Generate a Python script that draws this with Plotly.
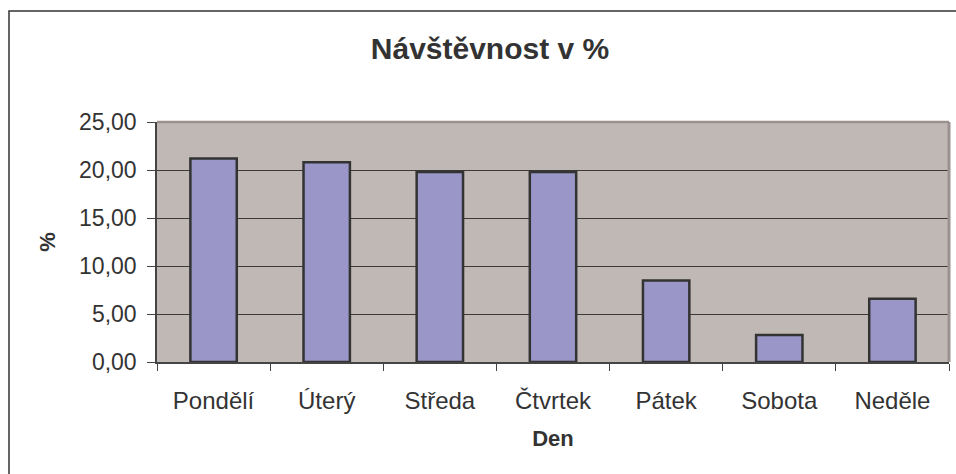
import plotly.graph_objects as go

days = ["Pondělí", "Úterý", "Středa", "Čtvrtek", "Pátek", "Sobota", "Neděle"]
visits_pct = [21.2, 20.8, 19.8, 19.8, 8.5, 2.8, 6.6]
y_ticks = [0, 5, 10, 15, 20, 25]

W, H = 956, 474
L, R, T, B = 157, 7, 122, 112
pw, ph = W - L - R, H - T - B

def px_x(p):
    return (p - L) / pw

def px_y(p):
    return (H - B - p) / ph

font_family = "Liberation Sans, Arial, sans-serif"
txt = "#333333"

fig = go.Figure(
    go.Bar(
        x=days,
        y=visits_pct,
        marker=dict(color="#9a96c8", line=dict(color="#333333", width=2.5)),
        hoverinfo="x+y",
    )
)

fig.update_layout(
    width=W,
    height=H,
    margin=dict(l=L, r=R, t=T, b=B, autoexpand=False),
    paper_bgcolor="white",
    plot_bgcolor="#c0b8b5",
    separators=", ",
    bargap=0.59,
    showlegend=False,
    font=dict(family=font_family, color=txt, size=22),
    title=dict(
        text="<b>Návštěvnost v %</b>",
        x=490 / W,
        xref="container",
        xanchor="center",
        y=1 - 48 / H,
        yref="container",
        yanchor="middle",
        font=dict(size=30, color=txt, family=font_family),
    ),
    xaxis=dict(
        type="category",
        tickson="boundaries",
        ticks="outside",
        ticklen=7,
        tickcolor="#444444",
        showline=True,
        linecolor="#444444",
        linewidth=1.5,
        tickfont=dict(size=24, color=txt),
        ticklabelstandoff=16,
        title=dict(text="<b>Den</b>", font=dict(size=22, color=txt), standoff=18),
        showgrid=False,
    ),
    yaxis=dict(
        range=[0, 25],
        tickvals=y_ticks,
        tickformat=".2f",
        ticks="outside",
        ticklen=8,
        tickcolor="#444444",
        showline=True,
        linecolor="#444444",
        linewidth=1.5,
        showgrid=True,
        gridcolor="#3a3a3a",
        gridwidth=1,
        zeroline=False,
        tickfont=dict(size=23, color=txt),
        ticklabelstandoff=6,
        title=dict(text="<b>%</b>", font=dict(size=22, color=txt), standoff=17),
    ),
    shapes=[
        dict(
            type="line", xref="paper", yref="paper",
            x0=0, x1=1, y0=1, y1=1,
            line=dict(color="#9b918e", width=2.5), layer="above",
        ),
        dict(
            type="line", xref="paper", yref="paper",
            x0=1, x1=1, y0=0, y1=1,
            line=dict(color="#9b918e", width=3), layer="above",
        ),
        dict(
            type="rect", xref="paper", yref="paper",
            x0=px_x(9), x1=px_x(W + 20), y0=px_y(H + 20), y1=px_y(11),
            line=dict(color="#333333", width=1.5), fillcolor="rgba(0,0,0,0)",
        ),
    ],
)

fig.write_html(
    "out.html",
    config={"displayModeBar": False},
    post_script="document.body.style.margin='0';document.body.style.overflow='hidden';",
)
